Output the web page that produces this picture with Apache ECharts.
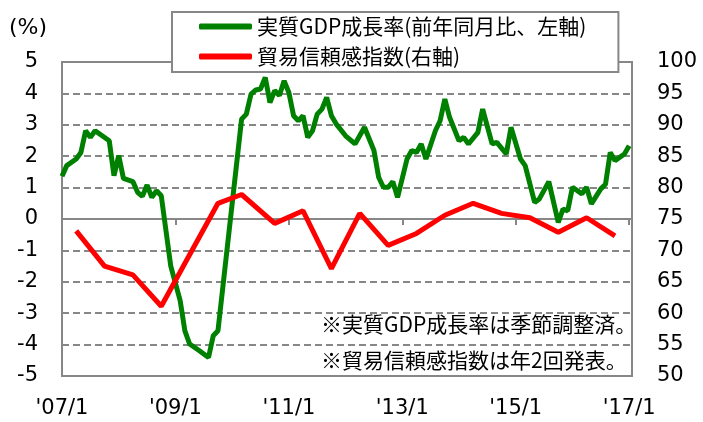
<!DOCTYPE html>
<html>
<head>
<meta charset="utf-8">
<script src="https://cdn.jsdelivr.net/npm/echarts@6/dist/echarts.min.js"></script>
<style>
  html, body { margin: 0; padding: 0; background: #fff; }
  #chart { width: 703px; height: 422px; }
</style>
</head>
<body>
<div id="chart"></div>
<script>
// months counted from 2007/1
const gdpMonth = [0, 1, 3, 4, 5, 6, 7, 10, 11, 12, 13, 15, 16, 17, 18, 19, 20, 21, 23, 25,
  26, 27, 29, 31, 32, 33, 38, 39, 40, 41, 42, 43, 44, 45, 46, 47, 48, 49, 50, 51,
  52, 53, 54, 55, 56, 57, 58, 60, 62, 64, 66, 67, 68, 69, 70, 71, 73, 74, 75, 76,
  77, 79, 80, 81, 82, 84, 85, 86, 88, 89, 91, 92, 94, 95, 97, 98, 100, 101, 103, 105,
  106, 107, 108, 110, 111, 112, 114, 115, 116, 117, 119, 120];
const gdpRate = [1.36, 1.70, 1.91, 2.12, 2.81, 2.60, 2.81, 2.49, 1.38, 2.02, 1.29, 1.19, 0.85, 0.72, 1.08, 0.69, 0.90, 0.74, -1.49, -2.60,
  -3.56, -3.98, -4.19, -4.41, -3.72, -3.56, 3.18, 3.34, 3.98, 4.11, 4.14, 4.51, 3.71, 4.09, 3.93, 4.40, 4.03, 3.29, 3.13, 3.29,
  2.60, 2.81, 3.34, 3.50, 3.87, 3.29, 3.03, 2.65, 2.39, 2.92, 2.18, 1.33, 1.01, 1.01, 1.19, 0.69, 1.91, 2.18, 2.12, 2.39,
  1.91, 2.81, 3.13, 3.82, 3.24, 2.49, 2.60, 2.39, 2.76, 3.50, 2.39, 2.44, 2.07, 2.92, 1.91, 1.70, 0.53, 0.64, 1.19, -0.11,
  0.32, 0.26, 1.01, 0.80, 1.01, 0.48, 0.96, 1.11, 2.12, 1.86, 2.07, 2.33];

const tciMonth = [3, 9, 15, 21, 33, 38, 45, 51, 57, 63, 69, 75, 81, 87, 93, 99, 105, 111, 117];
const tciValue = [73.1, 67.5, 66.1, 61.1, 77.5, 78.9, 74.3, 76.3, 67.1, 75.9, 70.8, 72.7, 75.6, 77.5, 75.9, 75.2, 72.9, 75.2, 72.3];

const xLabels = ["'07/1", "'09/1", "'11/1", "'13/1", "'15/1", "'17/1"];
const gdpName = '実質GDP成長率(前年同月比、左軸)';
const tciName = '貿易信頼感指数(右軸)';
const notes = ['※実質GDP成長率は季節調整済。', '※貿易信頼感指数は年2回発表。'];

const FONT = '"Noto Sans CJK JP", "Noto Sans", sans-serif';
const NUM_FONT = '"DejaVu Sans", sans-serif';
const GRAY = '#878787';

const chart = echarts.init(document.getElementById('chart'));

const option = {
  animation: false,
  grid: {
    left: 62, right: 71, top: 62, bottom: 46,
    show: true, borderColor: GRAY, borderWidth: 2, backgroundColor: '#fff'
  },
  legend: {
    orient: 'vertical',
    left: 172, top: 12,
    padding: [4, 32, 5, 27],
    itemGap: 9,
    itemWidth: 53, itemHeight: 6,
    icon: 'roundRect',
    backgroundColor: '#fff',
    borderColor: GRAY, borderWidth: 2,
    textStyle: { fontFamily: FONT, fontSize: 21, color: '#000' },
    data: [gdpName, tciName]
  },
  xAxis: [
    {
      type: 'value', min: 0, max: 120.6, interval: 24, position: 'bottom',
      axisLine: { show: false, onZero: false },
      axisTick: { show: false },
      splitLine: { show: false },
      axisLabel: {
        fontFamily: NUM_FONT, fontSize: 21, color: '#000', margin: 22,
        formatter: v => (v % 24 === 0 ? xLabels[v / 24] : '')
      }
    },
    {
      type: 'value', min: 0, max: 120.6, interval: 24, position: 'bottom',
      axisLine: { show: true, onZero: true, onZeroAxisIndex: 0, lineStyle: { color: GRAY, width: 2 } },
      axisTick: { show: true, length: 6, lineStyle: { color: GRAY, width: 2 } },
      axisLabel: { show: false },
      splitLine: { show: false }
    }
  ],
  yAxis: [
    {
      type: 'value', min: -5, max: 5, interval: 1, position: 'left',
      axisLine: { show: false },
      axisTick: { show: false },
      axisLabel: { fontFamily: NUM_FONT, fontSize: 21, color: '#000', margin: 24 },
      splitLine: { show: true, lineStyle: { color: GRAY, width: 2, type: [7, 4] } }
    },
    {
      type: 'value', min: 50, max: 100, interval: 5, position: 'right',
      axisLine: { show: false },
      axisTick: { show: false },
      axisLabel: { fontFamily: NUM_FONT, fontSize: 21, color: '#000', margin: 25 },
      splitLine: { show: false }
    }
  ],
  graphic: [
    { type: 'text', x: 9, y: 28, style: { text: '(%)', font: '22px ' + NUM_FONT, fill: '#000', verticalAlign: 'middle' } },
    { type: 'text', x: 321, y: 324, style: { text: notes[0], font: '21px ' + FONT, fill: '#000', verticalAlign: 'middle' } },
    { type: 'text', x: 321, y: 360, style: { text: notes[1], font: '21px ' + FONT, fill: '#000', verticalAlign: 'middle' } }
  ],
  series: [
    {
      name: gdpName, type: 'line', xAxisIndex: 0, yAxisIndex: 0,
      symbol: 'none',
      lineStyle: { color: '#008000', width: 5 },
      itemStyle: { color: '#008000' },
      data: gdpMonth.map((m, i) => [m, gdpRate[i]])
    },
    {
      name: tciName, type: 'line', xAxisIndex: 0, yAxisIndex: 1,
      symbol: 'none',
      lineStyle: { color: '#ff0000', width: 5 },
      itemStyle: { color: '#ff0000' },
      data: tciMonth.map((m, i) => [m, tciValue[i]])
    }
  ]
};

chart.setOption(option);
</script>
</body>
</html>
